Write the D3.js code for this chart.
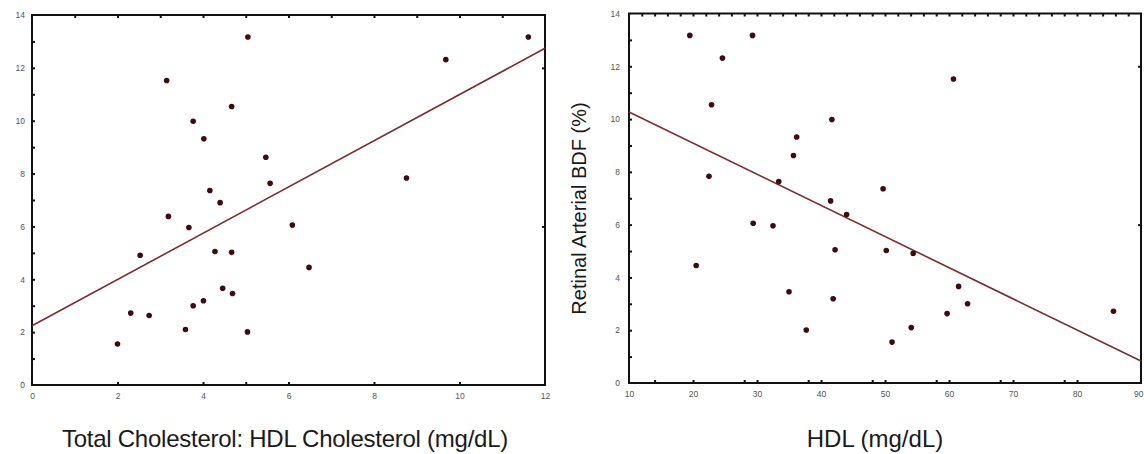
<!DOCTYPE html>
<html>
<head>
<meta charset="utf-8">
<script src="https://cdn.jsdelivr.net/npm/d3@7"></script>
<style>
  html, body { margin: 0; padding: 0; background: #fff; }
  svg { display: block; }
  .ticklabel text { font-family: "Liberation Sans", Arial, sans-serif; font-size: 8.5px; fill: #555; }
  .title { font-family: "Liberation Sans", Arial, sans-serif; fill: #1a1a1a; }
</style>
</head>
<body>
<svg id="chart" width="1144" height="454"></svg>
<script>
// Retinal arterial BDF (%) for each subject, shared by both panels
const bdf = [13.17, 13.17, 12.31, 11.52, 10.54, 9.98, 9.32, 8.62, 7.83, 7.63,
             7.36, 6.90, 6.38, 6.05, 5.96, 5.05, 5.02, 4.91, 4.45, 3.66,
             3.46, 3.19, 3.00, 2.72, 2.63, 2.10, 2.01, 1.55];
// Total cholesterol : HDL cholesterol ratio
const tcHdlRatio = [5.05, 11.61, 9.68, 3.15, 4.67, 3.77, 4.02, 5.47, 8.76, 5.57,
                    4.16, 4.40, 3.19, 6.09, 3.67, 4.28, 4.67, 2.53, 6.48, 4.46,
                    4.69, 4.01, 3.77, 2.31, 2.74, 3.59, 5.04, 2.00];
// HDL cholesterol (mg/dL)
const hdl = [29.3, 19.5, 24.6, 60.7, 22.9, 41.7, 36.2, 35.7, 22.5, 33.4,
             49.7, 41.5, 44.0, 29.4, 32.5, 42.2, 50.2, 54.4, 20.5, 61.5,
             35.0, 41.9, 62.9, 85.7, 59.7, 54.1, 37.7, 51.1];

// Linear fits: [intercept, slope]
const ratioFit = [2.24, 0.875];
const hdlFit = [11.45, -0.118];

// Axis ticks
const bdfLabels = [0, 2, 4, 6, 8, 10, 12, 14];
const bdfMarks = d3.range(1, 14);
const bdfRightMarks = [6, 12];
const ratioLabels = [0, 2, 4, 6, 8, 10, 12];
const ratioBottomMarks = [2, 4, 5, 6, 8, 10];
const ratioTopMarks = d3.range(1, 12);
const hdlLabels = [10, 20, 30, 40, 50, 60, 70, 80, 90];
const hdlBottomMarks = [14, 20, 28, 30, 38, 40, 48, 50, 58, 60, 68, 70, 78, 80];
const hdlTopMarks = d3.range(12, 90, 2);

const width = 1144;
const svg = d3.select("#chart");
const dotColor = "#3d0c12";
const lineColor = "#7a2f2f";

function panel(opts) {
  const x = d3.scaleLinear().domain(opts.xDomain).range([opts.left, opts.right]);
  const y = d3.scaleLinear().domain([0, 14]).range([opts.bottom, opts.top]);
  const g = svg.append("g");

  // tick marks (inward, no labels)
  const markAxis = (axis, values, transform) => {
    const a = g.append("g").attr("transform", transform)
      .call(axis.tickValues(values).tickSizeInner(-3).tickSizeOuter(0).tickFormat(""));
    a.select(".domain").remove();
    a.selectAll(".tick line").attr("stroke", "#111").attr("stroke-width", 2);
  };
  markAxis(d3.axisBottom(x), opts.xBottomMarks, `translate(0,${opts.bottom})`);
  markAxis(d3.axisTop(x), opts.xTopMarks, `translate(0,${opts.top})`);
  markAxis(d3.axisLeft(y), bdfMarks, `translate(${opts.left},0)`);
  markAxis(d3.axisRight(y), bdfRightMarks, `translate(${opts.right},0)`);

  // tick labels
  const lx = g.append("g").attr("class", "ticklabel")
    .attr("transform", `translate(0,${opts.bottom})`)
    .call(d3.axisBottom(x).tickValues(opts.xLabels).tickSize(0).tickPadding(8));
  lx.select(".domain").remove();
  // keep a label that sits on the page edge inside the page
  lx.selectAll(".tick text").each(function (d) {
    const w = this.getComputedTextLength();
    const over = x(d) + w / 2 - (width - 1);
    if (over > 0) d3.select(this).attr("dx", -over);
  });
  const ly = g.append("g").attr("class", "ticklabel")
    .attr("transform", `translate(${opts.left},0)`)
    .call(d3.axisLeft(y).tickValues(bdfLabels).tickSize(0).tickPadding(opts.yPad));
  ly.select(".domain").remove();
  g.selectAll(".ticklabel text").attr("font-family", null).attr("font-size", null);

  // frame
  g.append("rect")
    .attr("x", opts.left).attr("y", opts.top)
    .attr("width", opts.right - opts.left).attr("height", opts.bottom - opts.top)
    .attr("fill", "none").attr("stroke", "#111").attr("stroke-width", 2);

  // regression line across the plotted range
  const [b0, b1] = opts.fit;
  const xs = opts.xDomain;
  g.append("line")
    .attr("x1", x(xs[0])).attr("y1", y(b0 + b1 * xs[0]))
    .attr("x2", x(xs[1])).attr("y2", y(b0 + b1 * xs[1]))
    .attr("stroke", lineColor).attr("stroke-width", 1.6);

  // points
  g.append("g").selectAll("circle")
    .data(opts.xs.map((v, i) => [v, bdf[i]]))
    .join("circle")
    .attr("cx", d => x(d[0])).attr("cy", d => y(d[1]))
    .attr("r", 2.8).attr("fill", dotColor);

  // x-axis title
  svg.append("text").attr("class", "title")
    .attr("x", opts.titleX).attr("y", 446.5)
    .attr("text-anchor", "middle").attr("font-size", 24)
    .attr("letter-spacing", opts.titleSpacing)
    .text(opts.xTitle);
}

panel({
  left: 32, right: 545, top: 15, bottom: 385,
  xDomain: [0, 12], xs: tcHdlRatio, fit: ratioFit,
  xLabels: ratioLabels, xBottomMarks: ratioBottomMarks, xTopMarks: ratioTopMarks,
  yPad: 7, titleX: 285, titleSpacing: -0.25,
  xTitle: "Total Cholesterol: HDL Cholesterol (mg/dL)"
});

panel({
  left: 629, right: 1141, top: 13.5, bottom: 383,
  xDomain: [10, 90], xs: hdl, fit: hdlFit,
  xLabels: hdlLabels, xBottomMarks: hdlBottomMarks, xTopMarks: hdlTopMarks,
  yPad: 9, titleX: 875, titleSpacing: 0,
  xTitle: "HDL (mg/dL)"
});

// y-axis title of the HDL panel
svg.append("text").attr("class", "title")
  .attr("transform", "translate(586,208.5) rotate(-90)")
  .attr("text-anchor", "middle").attr("font-size", 20).attr("fill", "#333")
  .text("Retinal Arterial BDF (%)");
</script>
</body>
</html>
